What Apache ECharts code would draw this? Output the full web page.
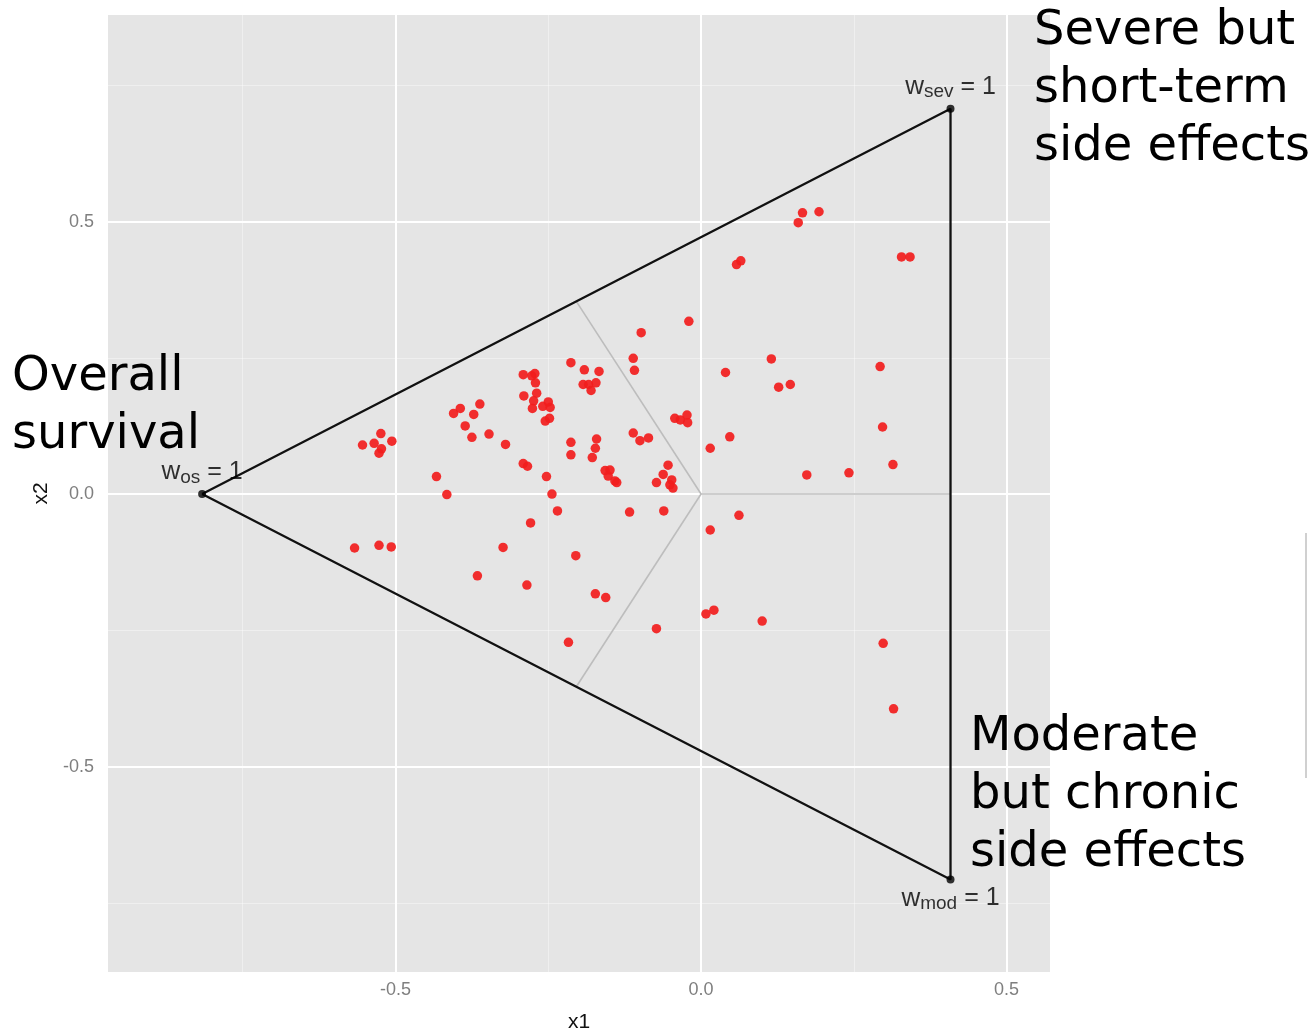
<!DOCTYPE html>
<html>
<head>
<meta charset="utf-8">
<script src="https://cdn.jsdelivr.net/npm/echarts@6/dist/echarts.min.js"></script>
<style>
html,body{margin:0;padding:0;background:#fff;}
#chart{width:1308px;height:1033px;}
</style>
</head>
<body>
<div id="chart"></div>
<script>
// ---- data ----
const ptX = [-0.524,-0.554,-0.535,-0.523,-0.527,-0.506,-0.405,-0.394,-0.362,-0.372,
  -0.386,-0.375,-0.347,-0.320,-0.433,-0.416,-0.567,-0.527,-0.507,-0.324,
  -0.213,-0.191,-0.167,-0.193,-0.184,-0.172,-0.180,-0.291,-0.277,-0.272,
  -0.271,-0.290,-0.269,-0.274,-0.276,-0.259,-0.250,-0.247,-0.255,-0.248,
  -0.111,-0.109,-0.098,-0.020,-0.043,-0.034,-0.023,-0.022,-0.213,-0.213,
  -0.171,-0.173,-0.178,-0.291,-0.284,-0.253,-0.157,-0.149,-0.152,-0.141,
  -0.138,-0.111,-0.100,-0.086,-0.054,-0.062,-0.073,-0.048,-0.051,-0.046,
  -0.244,-0.235,-0.117,-0.061,-0.279,0.166,0.193,0.159,0.065,0.058,
  0.328,0.342,0.115,0.040,0.127,0.146,0.293,0.047,0.015,0.297,
  0.314,0.173,0.242,0.298,0.315,-0.205,-0.366,-0.285,-0.173,-0.156,
  -0.217,-0.073,0.008,0.021,0.100,0.015,0.062];
const ptY = [0.111,0.090,0.093,0.083,0.075,0.097,0.148,0.157,0.165,0.146,
  0.125,0.104,0.110,0.091,0.032,-0.001,-0.099,-0.094,-0.097,-0.098,
  0.241,0.228,0.225,0.201,0.201,0.204,0.190,0.219,0.217,0.221,
  0.204,0.180,0.185,0.171,0.157,0.161,0.169,0.159,0.134,0.139,
  0.249,0.227,0.296,0.317,0.139,0.136,0.145,0.131,0.095,0.072,
  0.101,0.084,0.067,0.056,0.051,0.032,0.043,0.044,0.033,0.024,
  0.021,0.112,0.098,0.103,0.053,0.036,0.021,0.026,0.017,0.011,
  0.000,-0.031,-0.033,-0.031,-0.053,0.516,0.518,0.498,0.428,0.421,
  0.435,0.435,0.248,0.223,0.196,0.201,0.234,0.105,0.084,0.123,
  0.054,0.035,0.039,-0.274,-0.394,-0.113,-0.150,-0.167,-0.183,-0.190,
  -0.272,-0.247,-0.220,-0.213,-0.233,-0.066,-0.039];

const vertexX = [-0.8165, 0.4082, 0.4082];
const vertexY = [0, 0.7071, -0.7071];
const vertexSub = ['os', 'sev', 'mod'];
const vertexPos = ['top', 'top', 'bottom'];

const majorTicks = [-0.5, 0, 0.5];
const minorX = [-0.75, -0.25, 0.25];
const minorY = [-0.75, -0.25, 0.25, 0.75];

const cornerTexts = ['Severe but\nshort-term\nside effects', 'Overall\nsurvival', 'Moderate\nbut chronic\nside effects'];

// ---- build ----
const chart = echarts.init(document.getElementById('chart'), null, {renderer: 'canvas'});

const points = ptX.map((x, i) => [x, ptY[i]]);
const tri = [0, 1, 2, 0].map(i => [vertexX[i], vertexY[i]]);
const center = [0, 0];
const mids = [[0,1],[0,2],[1,2]].map(([a,b]) => [(vertexX[a]+vertexX[b])/2, (vertexY[a]+vertexY[b])/2]);

const gridML = [];
majorTicks.forEach(v => {
  gridML.push({xAxis: v, lineStyle: {color: '#ffffff', width: 2, type: 'solid'}});
  gridML.push({yAxis: v, lineStyle: {color: '#ffffff', width: 2, type: 'solid'}});
});
minorX.forEach(v => gridML.push({xAxis: v, lineStyle: {color: 'rgba(255,255,255,0.4)', width: 1, type: 'solid'}}));
minorY.forEach(v => gridML.push({yAxis: v, lineStyle: {color: 'rgba(255,255,255,0.4)', width: 1, type: 'solid'}}));

const tickFmt = v => (Math.abs(v) < 1e-9 ? 0 : v).toFixed(1);

const series = [];
series.push({
  type: 'scatter', data: [], silent: true, z: 1,
  markLine: {silent: true, z: 1, symbol: ['none','none'], label: {show: false}, animation: false,
    lineStyle: {type: 'solid'}, emphasis: {disabled: true}, data: gridML}
});
mids.forEach(m => series.push({
  type: 'line', data: [center, m], symbol: 'none', silent: true, z: 2,
  lineStyle: {color: '#bdbdbd', width: 1.6}
}));
series.push({
  type: 'line', data: tri, symbol: 'none', silent: true, z: 3,
  lineStyle: {color: '#111111', width: 2.3}
});
series.push({
  type: 'scatter', data: points, symbolSize: 9.5, z: 4,
  itemStyle: {color: '#f21d1d', opacity: 0.92}
});
series.push({
  type: 'scatter', z: 5, symbolSize: 8,
  itemStyle: {color: '#000'},
  data: vertexX.map((x, i) => ({
    value: [x, vertexY[i]],
    label: {
      show: true, position: vertexPos[i], distance: vertexPos[i] === 'top' ? 3 : 0,
      formatter: '{w|w}{s|' + vertexSub[i] + '}{n| = 1}',
      rich: {
        w: {fontSize: 26, fontFamily: 'Liberation Sans', color: '#000', lineHeight: 30},
        s: {fontSize: 19, fontFamily: 'Liberation Sans', color: '#000', lineHeight: 14, verticalAlign: 'bottom'},
        n: {fontSize: 25, fontFamily: 'Liberation Sans', color: '#000', lineHeight: 30}
      }
    }
  }))
});

const option = {
  animation: false,
  backgroundColor: '#ffffff',
  grid: {left: 108, right: 258, top: 15, bottom: 61, outerBoundsMode: 'none', containLabel: false,
    show: true, backgroundColor: '#e5e5e5', borderWidth: 0},
  xAxis: {
    type: 'value', min: -0.9705, max: 0.571,
    name: 'x1', nameLocation: 'middle', nameGap: 40,
    nameTextStyle: {fontSize: 21, color: '#111', fontFamily: 'Liberation Sans'},
    axisLine: {show: false},
    axisTick: {show: true, customValues: majorTicks, length: 6, lineStyle: {color: '#7f7f7f', width: 1.5}},
    axisLabel: {customValues: majorTicks, formatter: tickFmt, color: '#7f7f7f', fontSize: 18, fontFamily: 'Liberation Sans', margin: 9},
    splitLine: {show: false}
  },
  yAxis: {
    type: 'value', min: -0.877, max: 0.879,
    name: 'x2', nameLocation: 'middle', nameGap: 52,
    nameTextStyle: {fontSize: 21, color: '#111', fontFamily: 'Liberation Sans'},
    axisLine: {show: false},
    axisTick: {show: true, customValues: majorTicks, length: 6, lineStyle: {color: '#7f7f7f', width: 1.5}},
    axisLabel: {customValues: majorTicks, formatter: tickFmt, color: '#7f7f7f', fontSize: 18, fontFamily: 'Liberation Sans', margin: 14},
    splitLine: {show: false}
  },
  graphic: [
    {type: 'text', z: 100, left: 1034, top: 3, style: {text: cornerTexts[0], font: '48px "DejaVu Sans"', fill: '#000', lineHeight: 58}},
    {type: 'text', z: 100, left: 12, top: 349, style: {text: cornerTexts[1], font: '48px "DejaVu Sans"', fill: '#000', lineHeight: 58}},
    {type: 'text', z: 100, left: 970, top: 709, style: {text: cornerTexts[2], font: '48px "DejaVu Sans"', fill: '#000', lineHeight: 58}},
    {type: 'line', z: 100, shape: {x1: 1306, y1: 533, x2: 1306, y2: 778}, style: {stroke: '#d0d0d0', lineWidth: 2}}
  ],
  series: series
};
chart.setOption(option);
</script>
</body>
</html>
